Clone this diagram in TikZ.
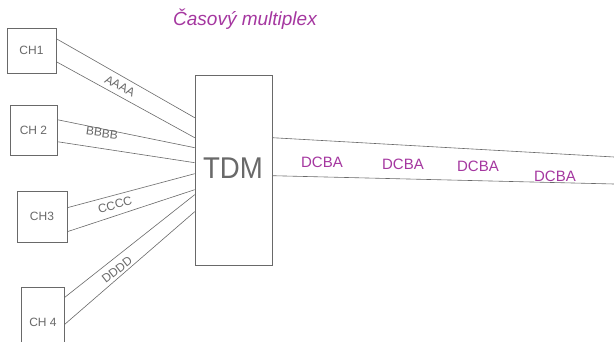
\documentclass[tikz,border=0pt]{standalone}
\usepackage{fontspec}
\setmainfont{Liberation Sans}
\definecolor{pencil}{RGB}{105,105,105}
\definecolor{ink}{RGB}{165,55,160}
\begin{document}
\begin{tikzpicture}[x=1pt,y=-1pt,
  chbox/.style={draw=pencil,line width=0.6pt,minimum width=#1,inner sep=0pt,text=pencil,font=\fontsize{12}{12}\selectfont},
  wire/.style={draw=pencil,line width=0.6pt},
  lab/.style={text=pencil,font=\fontsize{12}{12}\selectfont,inner sep=0pt},
  outlab/.style={text=ink,font=\fontsize{15}{15}\selectfont,inner sep=0pt}]
\useasboundingbox (0,0) rectangle (614,342);
\fill[white] (0,0) rectangle (614,342);
% title
\node[text=ink,font=\fontsize{19}{19}\itshape\selectfont] (title) at (245,19) {Časový multiplex};
% channel boxes
\node[chbox=49pt,minimum height=45pt] (ch1) at (31.5,50.5) {CH1};
\node[chbox=47pt,minimum height=50pt] (ch2) at (33.5,130) {CH 2};
\node[chbox=50pt,minimum height=51pt] (ch3) at (42,216.5) {CH3};
\node[chbox=42pt,minimum height=62pt,draw=none] (ch4) at (43,319) {};
\node[lab] (ch4t) at (43,322) {CH 4};
\draw[wire] (ch4.south west) -- (ch4.north west) -- (ch4.north east) -- (ch4.south east);
% multiplexer
\node[draw=pencil,line width=0.6pt,minimum width=77pt,minimum height=190pt,inner sep=0pt] (tdm) at (233.5,170) {};
\node[text=pencil,font=\fontsize{30}{30}\selectfont,xscale=0.92,inner sep=0pt] (tdmt) at (233,168) {TDM};
% wires
\draw[wire] ([yshift=-11pt]ch1.north east) -- ([yshift=-43pt]tdm.north west);
\draw[wire] ([yshift=-34pt]ch1.north east) -- ([yshift=-63pt]tdm.north west);
\draw[wire] ([yshift=-15pt]ch2.north east) -- ([yshift=-73pt]tdm.north west);
\draw[wire] ([yshift=-37pt]ch2.north east) -- ([yshift=-88pt]tdm.north west);
\draw[wire] ([yshift=-17pt]ch3.north east) -- ([yshift=-99pt]tdm.north west);
\draw[wire] ([yshift=-41pt]ch3.north east) -- ([yshift=-115pt]tdm.north west);
\draw[wire] ([yshift=-10pt]ch4.north east) -- ([yshift=-120pt]tdm.north west);
\draw[wire] ([yshift=-37pt]ch4.north east) -- ([yshift=-137pt]tdm.north west);
% output link
\coordinate (o1) at (614,157);
\coordinate (o2) at (614,184);
\draw[wire] ([yshift=-63pt]tdm.north east) -- (o1);
\draw[wire] ([yshift=-101pt]tdm.north east) -- (o2);
% labels on wires
\node[lab,rotate=-28] (la) at (120,86) {AAAA};
\node[lab,rotate=-8] (lb) at (102,133) {BBBB};
\node[lab,rotate=15] (lc) at (115,205) {CCCC};
\node[lab,rotate=38] (ld) at (117,270) {DDDD};
\node[outlab] (d1) at (322,162) {DCBA};
\node[outlab] (d2) at (403,164) {DCBA};
\node[outlab] (d3) at (478,166) {DCBA};
\node[outlab] (d4) at (555,176) {DCBA};
\end{tikzpicture}
\end{document}
